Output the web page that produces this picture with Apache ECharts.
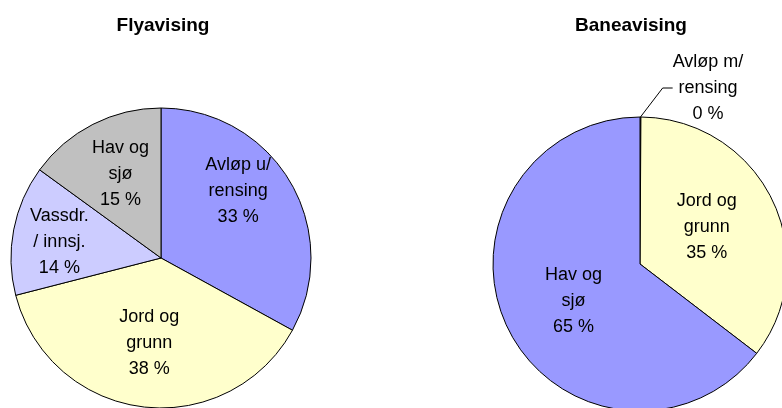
<!DOCTYPE html>
<html>
<head>
<meta charset="utf-8">
<script src="https://cdn.jsdelivr.net/npm/echarts@6/dist/echarts.min.js"></script>
<style>
  html, body { margin: 0; padding: 0; background: #fff; }
  #main { width: 782px; height: 408px; }
</style>
</head>
<body>
<div id="main"></div>
<script>
// Flyavising (venstre)
var flyNames = ['Avløp u/\nrensing', 'Jord og\ngrunn', 'Vassdr.\n/ innsj.', 'Hav og\nsjø'];
var flyValues = [33, 38, 14, 15];
var flyColors = ['#9999FF', '#FFFFCC', '#CCCCFF', '#C0C0C0'];

// Baneavising (høyre)
var baneNames = ['Avløp m/\nrensing', 'Jord og\ngrunn', 'Hav og\nsjø'];
var baneValues = [0.1, 35.3, 64.6];
var baneColors = ['#993366', '#FFFFCC', '#9999FF'];

// flytting av etikettene slik som i Excel-figuren
var flyShift = [[10, -27], [-2, 8], [-25, -1], [-5, -14]];
var baneShift = [[0, 0], [-2, -3], [2, 3]];

var font = 'Liberation Sans, Arial, sans-serif';

function lagData(names, values, colors) {
    var out = [];
    for (var i = 0; i < names.length; i++) {
        out.push({ name: names[i], value: values[i], itemStyle: { color: colors[i] } });
    }
    return out;
}

var baneData = lagData(baneNames, baneValues, baneColors);
baneData[0].label = { position: 'outside' };
baneData[0].labelLine = { show: true, length: 10, length2: 10, lineStyle: { color: '#000', width: 1 } };

function etikett(p) {
    return p.name + '\n' + Math.round(p.percent) + ' %';
}

var labelStyle = {
    show: true,
    position: 'inside',
    formatter: etikett,
    color: '#000',
    fontFamily: font,
    fontSize: 18,
    lineHeight: 26
};

var myChart = echarts.init(document.getElementById('main'));
var option = {
    animation: false,
    title: [
        { text: 'Flyavising', left: 163, top: 16, padding: 0, textAlign: 'center',
          textStyle: { fontFamily: font, fontSize: 19, fontWeight: 'bold', color: '#000' } },
        { text: 'Baneavising', left: 631, top: 16, padding: 0, textAlign: 'center',
          textStyle: { fontFamily: font, fontSize: 19, fontWeight: 'bold', color: '#000' } }
    ],
    series: [
        {
            type: 'pie',
            center: [161, 258],
            radius: 150,
            startAngle: 90,
            clockwise: true,
            itemStyle: { borderColor: '#000', borderWidth: 1 },
            label: labelStyle,
            labelLine: { show: false },
            emphasis: { disabled: true },
            labelLayout: function (p) {
                var s = flyShift[p.dataIndex];
                return { dx: s[0], dy: s[1] };
            },
            data: lagData(flyNames, flyValues, flyColors)
        },
        {
            type: 'pie',
            center: [640, 264],
            radius: 147,
            startAngle: 90,
            clockwise: true,
            avoidLabelOverlap: false,
            itemStyle: { borderColor: '#000', borderWidth: 1 },
            label: labelStyle,
            labelLine: { show: false, length: 10, length2: 10, maxSurfaceAngle: 180 },
            emphasis: { disabled: true },
            labelLayout: function (p) {
                if (p.dataIndex === 0) {
                    return { x: 708, y: 88, align: 'center', verticalAlign: 'middle' };
                }
                var s = baneShift[p.dataIndex];
                return { dx: s[0], dy: s[1] };
            },
            data: baneData
        }
    ]
};
myChart.setOption(option);
</script>
</body>
</html>
